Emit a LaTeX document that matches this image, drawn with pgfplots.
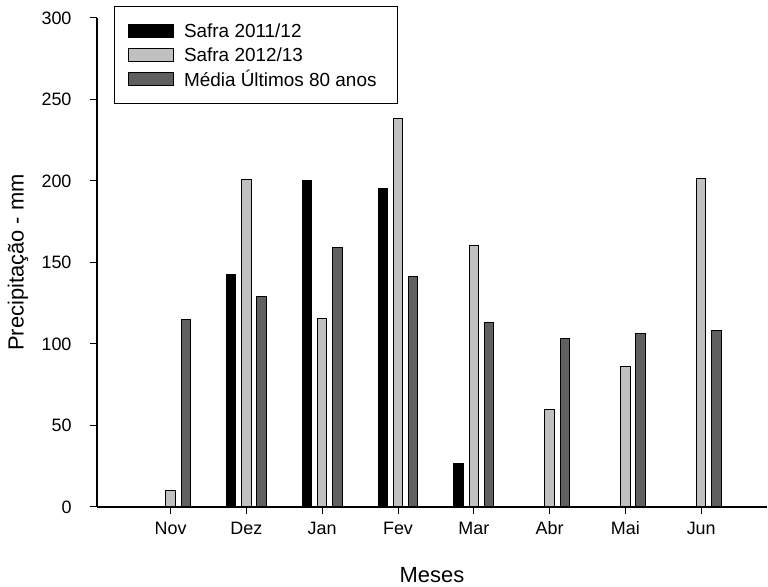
\documentclass[border=0pt]{standalone}
\usepackage{pgfplots}
\pgfplotsset{compat=1.18}
\usepackage{fontspec}
\setmainfont{Liberation Sans}
\definecolor{lgrey}{HTML}{C0C0C0}
\definecolor{dgrey}{HTML}{606060}
\begin{document}
\begin{tikzpicture}
\begin{axis}[
  scale only axis,
  width=670bp, height=489bp,
  xmin=-0.971, xmax=7.868,
  ymin=0, ymax=300,
  axis lines*=left,
  axis line style={line width=1.3bp, black},
  xtick={0,1,2,3,4,5,6,7},
  xticklabels={Nov,Dez,Jan,Fev,Mar,Abr,Mai,Jun},
  ytick={0,50,100,150,200,250,300},
  tick align=outside,
  major tick length=7bp,
  tick style={line width=1bp, black},
  /pgf/number format/assume math mode=true,
  ticklabel style={font=\fontsize{18}{20}\selectfont},
  yticklabel style={xshift=-15bp},
  xticklabel style={yshift=-10bp, text height=0.75em, text depth=0.2em},
  xlabel={Meses},
  ylabel={Precipitação - mm},
  xlabel style={at={(axis description cs:0.5,-0.1534)}, anchor=base, font=\fontsize{22}{24}\selectfont},
  ylabel style={at={(axis description cs:-0.1179,0.5)}, anchor=center, rotate=0, font=\fontsize{22}{24}\selectfont},
  legend style={at={(axis description cs:0.0254,1.0245)}, anchor=north west,
    draw=black, line width=1bp, inner xsep=13bp, inner ysep=12.5bp,
    font=\fontsize{19}{21}\selectfont, row sep=0pt,
    nodes={inner sep=0pt}},
  legend cell align=left,
  legend image code/.code={\path[draw=none, fill=none] (0bp,-12bp) rectangle (56bp,12bp);
    \draw[#1, line width=1bp] (0bp,-6.5bp) rectangle (45bp,6.5bp);},
]
\addplot[ybar, bar width=0.125, bar shift=-0.2, fill=black, draw=black, line width=1bp]
  coordinates {(1,142.5) (2,200.5) (3,195.5) (4,26.5)};
\addlegendentry{Safra 2011/12}
\addplot[ybar, bar width=0.125, bar shift=0, fill=lgrey, draw=black, line width=1bp]
  coordinates {(0,10) (1,201) (2,115.5) (3,238.5) (4,160.5) (5,60) (6,86.5) (7,201.5)};
\addlegendentry{Safra 2012/13}
\addplot[ybar, bar width=0.125, bar shift=0.2, fill=dgrey, draw=black, line width=1bp]
  coordinates {(0,115) (1,129) (2,159) (3,141.5) (4,113) (5,103.5) (6,106.5) (7,108)};
\addlegendentry{Média Últimos 80 anos\hspace*{8bp}}
\end{axis}
\path ([shift={(-97bp,-80bp)}]current axis.south west) rectangle ([shift={(1bp,18bp)}]current axis.north east);
\end{tikzpicture}
\end{document}
